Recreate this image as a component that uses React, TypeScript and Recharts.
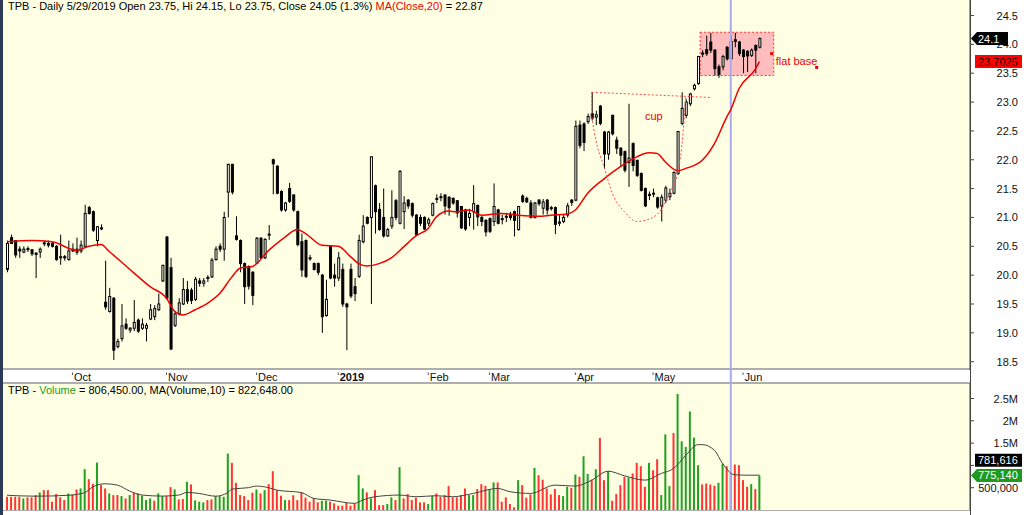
import React from "react";
import {
  Bar,
  ComposedChart,
  Line,
  ReferenceArea,
  ReferenceDot,
  ReferenceLine,
  XAxis,
  YAxis,
} from "recharts";

// daily candles, Sep 7 2018 .. Jun 7 2019 (index 0..184)
const opens = [
  20.1, 20.65, 20.6, 20.45, 20.4, 20.45, 20.44, 20.38, 20.4, 20.55,
  20.55, 20.55, 20.5, 20.3, 20.32, 20.27, 20.45, 20.45, 20.42, 20.5,
  21.17, 21.1, 20.6, 20.82, 19.53, 19.37, 19.6, 18.76, 18.9, 19.15,
  19.05, 19.08, 19.22, 19.08, 19.08, 19.24, 19.28, 19.4, 19.9, 20.66,
  20.13, 19.13, 19.33, 19.5, 19.75, 19.74, 19.58, 19.9, 19.86, 19.95,
  19.97, 20.27, 20.5, 20.45, 21.44, 21.92, 20.68, 20.6, 20.2, 20.15,
  20.05, 20.21, 20.64, 20.3, 20.7, 22.0, 21.89, 21.45, 21.13, 21.5,
  21.39, 21.1, 20.58, 20.6, 20.3, 20.2, 20.2, 20.0, 19.3, 20.5,
  20.0, 19.95, 20.1, 19.5, 20.1, 19.8, 19.98, 20.58, 21.0, 21.0,
  21.55, 21.14, 21.0, 20.68, 20.85, 21.29, 20.9, 21.1, 21.3, 21.24,
  21.04, 21.0, 21.0, 20.9, 21.04, 21.33, 21.35, 21.39, 21.35, 21.33,
  21.29, 21.19, 21.13, 21.0, 21.1, 21.21, 21.0, 20.95, 20.98, 20.93,
  21.13, 20.98, 21.02, 21.05, 21.1, 20.79, 21.37, 21.33, 21.25, 21.0,
  21.3, 21.16, 21.3, 21.17, 21.17, 20.9, 20.93, 21.04, 21.3, 21.3,
  22.6, 22.62, 22.66, 22.8, 22.74, 22.93, 22.48, 22.1, 22.77, 22.34,
  22.2, 22.14, 21.95, 22.28, 21.99, 21.76, 21.5, 21.38, 21.42, 21.34,
  21.2, 21.3, 21.36, 21.42, 21.76, 22.63, 22.77, 22.97, 23.23, 23.32,
  23.83, 23.91, 24.04, 23.9, 23.61, 23.61, 23.95, 23.75, 24.08, 24.04,
  23.9, 23.88, 23.81, 23.98, 23.95,
];
const highs = [
  20.6, 20.7, 20.6, 20.5, 20.5, 20.5, 20.45, 20.4, 20.48, 20.6,
  20.6, 20.58, 20.52, 20.7, 20.35, 20.6, 20.55, 20.65, 20.6, 21.22,
  21.2, 21.12, 20.85, 20.88, 20.25, 19.78, 19.62, 18.9, 19.5, 19.25,
  19.1, 19.57, 19.25, 19.25, 19.17, 19.5, 19.48, 19.68, 20.18, 20.68,
  20.3, 19.38, 19.6, 19.95, 19.9, 19.78, 19.97, 19.95, 19.95, 20.0,
  20.3, 20.5, 20.55, 21.1, 21.93, 21.93, 21.02, 20.62, 20.22, 20.17,
  20.07, 20.66, 20.66, 20.64, 20.87, 22.02, 21.9, 21.47, 21.27, 21.6,
  21.4, 21.12, 20.72, 20.62, 20.35, 20.22, 20.22, 20.02, 19.92, 20.52,
  20.2, 20.4, 20.2, 19.52, 20.2, 19.95, 20.7, 21.04, 21.02, 22.06,
  21.57, 21.25, 21.5, 20.82, 21.47, 21.32, 21.82, 21.37, 21.32, 21.26,
  21.06, 21.05, 21.02, 21.0, 21.26, 21.4, 21.42, 21.4, 21.37, 21.35,
  21.3, 21.2, 21.15, 21.15, 21.56, 21.22, 21.03, 20.97, 21.0, 21.59,
  21.15, 21.05, 21.08, 21.1, 21.12, 21.2, 21.4, 21.36, 21.3, 21.27,
  21.32, 21.32, 21.32, 21.2, 21.19, 21.05, 21.05, 21.25, 21.32, 22.68,
  22.68, 22.65, 22.8, 23.17, 22.85, 22.95, 22.5, 22.5, 22.78, 22.4,
  22.22, 22.16, 22.97, 22.3, 22.0, 21.78, 21.52, 21.45, 21.5, 21.36,
  21.4, 21.55, 21.5, 21.8, 22.5, 23.17, 23.05, 23.16, 23.32, 23.8,
  23.9, 24.15, 24.2, 23.92, 23.65, 23.82, 23.97, 24.15, 24.2, 24.06,
  23.92, 23.9, 23.93, 24.0, 24.12,
];
const lows = [
  20.05, 20.55, 20.3, 20.3, 20.38, 20.4, 20.33, 19.95, 20.3, 20.5,
  20.48, 20.48, 20.25, 20.18, 20.25, 20.25, 20.4, 20.35, 20.38, 20.48,
  21.05, 20.75, 20.5, 20.78, 19.4, 19.35, 18.53, 18.73, 18.85, 19.05,
  19.0, 19.03, 19.0, 19.05, 18.85, 19.22, 19.22, 19.38, 19.88, 19.58,
  18.7, 19.1, 19.3, 19.48, 19.5, 19.5, 19.55, 19.8, 19.8, 19.88,
  19.95, 20.25, 20.4, 20.25, 21.0, 21.4, 20.6, 20.05, 19.5, 19.75,
  19.48, 20.2, 20.28, 20.28, 20.61, 21.4, 21.4, 21.1, 21.1, 21.25,
  21.1, 20.5, 19.97, 19.95, 20.25, 20.08, 20.0, 19.0, 19.28, 19.93,
  19.8, 19.9, 19.45, 18.7, 19.6, 19.55, 19.95, 20.55, 20.88, 19.5,
  20.72, 20.77, 20.65, 20.66, 20.8, 20.95, 20.88, 20.8, 21.15, 21.0,
  20.68, 20.85, 20.78, 20.85, 21.02, 21.25, 21.28, 21.05, 21.03, 21.22,
  21.0, 20.8, 20.77, 20.85, 20.79, 20.85, 20.85, 20.67, 20.73, 20.85,
  20.88, 20.88, 20.92, 20.95, 20.67, 20.77, 21.25, 21.25, 20.98, 20.98,
  21.2, 21.05, 21.05, 21.12, 20.71, 20.85, 20.9, 21.0, 21.2, 21.28,
  22.2, 22.15, 22.62, 22.68, 22.6, 22.6, 21.85, 22.0, 22.42, 22.1,
  21.88, 21.78, 21.53, 21.8, 21.7, 21.45, 21.18, 21.3, 21.35, 21.15,
  20.93, 21.25, 21.3, 21.4, 21.74, 22.6, 22.72, 22.93, 23.2, 23.3,
  23.78, 23.8, 23.85, 23.46, 23.42, 23.55, 23.72, 23.75, 23.95, 23.8,
  23.5, 23.52, 23.78, 23.5, 23.93,
];
const closes = [
  20.55, 20.55, 20.35, 20.42, 20.45, 20.46, 20.37, 20.36, 20.45, 20.56,
  20.52, 20.5, 20.27, 20.32, 20.3, 20.42, 20.42, 20.4, 20.52, 21.07,
  21.07, 20.78, 20.84, 20.82, 19.45, 19.63, 18.7, 18.85, 19.12, 19.08,
  19.08, 19.18, 19.03, 19.15, 19.13, 19.4, 19.42, 19.5, 20.17, 19.6,
  18.72, 19.33, 19.52, 19.75, 19.55, 19.56, 19.93, 19.86, 19.9, 19.96,
  20.26, 20.45, 20.45, 21.0, 21.92, 21.44, 20.62, 20.2, 19.8, 19.81,
  19.65, 20.64, 20.3, 20.62, 20.71, 21.93, 21.42, 21.13, 21.25, 21.28,
  21.13, 20.53, 20.09, 19.98, 20.3, 20.1, 20.05, 19.28, 19.58, 19.95,
  19.95, 20.3, 19.5, 19.45, 19.64, 19.68, 20.6, 20.85, 20.9, 22.05,
  21.1, 20.79, 20.68, 20.79, 21.0, 21.0, 21.8, 21.25, 21.2, 21.04,
  20.7, 20.9, 20.8, 20.96, 21.24, 21.33, 21.36, 21.2, 21.17, 21.25,
  21.08, 20.82, 20.8, 21.07, 21.24, 21.01, 20.93, 20.75, 20.76, 21.19,
  20.9, 20.98, 21.02, 21.0, 20.95, 21.19, 21.28, 21.27, 21.0, 21.25,
  21.24, 21.27, 21.13, 21.17, 20.88, 20.92, 21.0, 21.2, 21.26, 22.58,
  22.25, 22.3, 22.75, 22.72, 22.78, 22.63, 22.1, 22.48, 22.45, 22.2,
  22.08, 21.82, 22.03, 21.9, 21.73, 21.47, 21.2, 21.4, 21.42, 21.18,
  21.35, 21.51, 21.42, 21.78, 22.49, 22.89, 23.0, 23.14, 23.29, 23.79,
  23.85, 23.84, 23.9, 23.58, 23.48, 23.79, 23.75, 24.05, 24.05, 23.84,
  23.79, 23.8, 23.9, 23.9, 24.1,
];
// volume in thousands of shares, and its colour direction (1 = green, 0 = red)
const volumes = [
  297, 297, 297, 297, 260, 283, 283, 335, 394, 446,
  446, 186, 357, 283, 223, 372, 350, 461, 484, 915,
  692, 588, 1064, 558, 484, 372, 335, 335, 312, 260,
  335, 387, 372, 320, 223, 260, 208, 372, 312, 312,
  513, 461, 238, 246, 632, 573, 216, 186, 171, 223,
  238, 312, 312, 297, 1265, 1057, 610, 335, 312, 223,
  387, 461, 372, 446, 580, 870, 446, 320, 223, 223,
  330, 223, 400, 275, 186, 260, 171, 208, 208, 186,
  149, 97, 97, 164, 97, 149, 781, 484, 394, 260,
  446, 110, 110, 134, 283, 223, 960, 260, 357, 223,
  275, 171, 171, 134, 320, 372, 297, 335, 536, 283,
  283, 335, 484, 335, 335, 469, 580, 543, 469, 618,
  618, 186, 283, 134, 60, 670, 558, 275, 350, 944,
  780, 680, 484, 350, 469, 335, 312, 521, 498, 796,
  744, 1205, 810, 680, 915, 1614, 670, 870, 208, 357,
  558, 744, 729, 820, 1057, 982, 521, 1057, 890, 1138,
  335, 1696, 536, 1726, 2604, 1540, 1414, 2210, 1622, 1004,
  573, 595, 573, 543, 610, 1042, 982, 806.45, 1020, 1004,
  670, 521, 580, 469, 775.14,
];
const volUp = [
  0, 0, 0, 0, 1, 0, 0, 0, 1, 0,
  0, 0, 0, 0, 0, 1, 0, 0, 1, 1,
  0, 0, 1, 0, 0, 1, 0, 0, 1, 0,
  1, 0, 1, 1, 1, 1, 0, 1, 1, 0,
  0, 1, 0, 0, 1, 0, 1, 1, 1, 0,
  0, 1, 1, 1, 1, 0, 0, 0, 0, 0,
  0, 1, 0, 1, 0, 0, 0, 0, 1, 0,
  0, 0, 0, 0, 0, 0, 0, 1, 1, 0,
  0, 0, 0, 0, 0, 0, 1, 1, 0, 1,
  0, 0, 0, 1, 1, 0, 1, 0, 0, 0,
  0, 0, 0, 1, 1, 0, 0, 0, 0, 0,
  0, 0, 0, 1, 1, 0, 0, 0, 1, 1,
  0, 0, 0, 0, 0, 1, 0, 0, 0, 1,
  0, 0, 0, 0, 0, 0, 1, 1, 0, 1,
  0, 1, 1, 0, 1, 0, 0, 1, 0, 0,
  0, 0, 1, 0, 0, 0, 0, 1, 0, 0,
  1, 1, 1, 0, 1, 1, 1, 1, 1, 1,
  0, 0, 0, 0, 1, 1, 0, 1, 0, 0,
  0, 0, 1, 0, 1,
];
// MA(Close,20): [index, value]
const maPoints: [number, number][] = [
  [0, 20.58], [6, 20.6], [11, 20.58], [17, 20.43], [20, 20.5], [23, 20.53],
  [25, 20.41], [31, 20.04], [35, 19.8], [39, 19.6], [41, 19.37], [43, 19.31],
  [46, 19.4], [49, 19.51], [52, 19.68], [55, 19.97], [57, 20.12], [60, 20.15],
  [64, 20.43], [68, 20.66], [71, 20.79], [73, 20.72], [77, 20.52], [81, 20.5],
  [84, 20.32], [86, 20.2], [88, 20.16], [91, 20.2], [94, 20.3], [97, 20.49],
  [100, 20.68], [103, 20.81], [105, 21.01], [108, 21.11], [110, 21.1], [113, 21.13],
  [116, 21.04], [121, 21.07], [125, 21.04], [130, 21.02], [133, 21.04], [137, 21.06],
  [139, 21.13], [142, 21.42], [146, 21.67], [150, 21.88], [154, 22.05], [157, 22.12],
  [159, 22.11], [161, 21.96], [164, 21.81], [166, 21.85], [170, 21.99], [173, 22.28],
  [176, 22.74], [177, 22.87], [179, 23.23], [183, 23.57], [184, 23.7025],
];
// MA(Volume,10) in thousands: [index, value]
const volMaPoints: [number, number][] = [
  [0, 330], [7, 310], [15, 330], [19, 390], [21, 520], [24, 588], [27, 558],
  [30, 424], [33, 335], [38, 312], [42, 335], [44, 394], [47, 370], [51, 310],
  [54, 390], [55, 470], [59, 500], [61, 536], [64, 500], [66, 446], [72, 390],
  [75, 260], [79, 223], [85, 149], [87, 223], [90, 297], [96, 335], [100, 297],
  [105, 320], [109, 297], [114, 372], [120, 484], [123, 410], [128, 372],
  [134, 558], [139, 536], [143, 670], [147, 870], [151, 767], [156, 670],
  [160, 820], [163, 930], [166, 1227], [169, 1466], [170, 1466], [173, 1339],
  [175, 1040], [176, 930], [177, 822.648], [178, 790], [181, 780], [184, 781.616],
];
// hand-drawn cup outline: [index, price]
const cupPoints: [number, number][] = [
  [143, 22.74], [144, 22.34], [146, 21.88], [148, 21.42], [151, 21.1],
  [154, 20.93], [157, 20.97], [160, 21.14], [162, 21.42], [164, 21.78],
  [165, 22.22], [166, 23.1],
];
const cupRim = { from: 143, to: 172, top: 23.17, end: 23.08, lip: 22.74 };
const flatBase = { from: 170, to: 187, low: 23.46, high: 24.21 };

const monthTicks = [16, 39, 61, 81, 103, 118, 139, 158, 180];
const monthLabels = ["Oct", "Nov", "Dec", "2019", "Feb", "Mar", "Apr", "May", "Jun"];
const priceTicks = [18.5, 19, 19.5, 20, 20.5, 21, 21.5, 22, 22.5, 23, 23.5, 24, 24.5];
const volTicks = [500000, 1000000, 1500000, 2000000, 2500000];
const volTickLabels = ["500,000", "", "1.5M", "2M", "2.5M"];

const SLOTS = 236;
const CURSOR = 177;
const FONT = '"Liberation Sans", Arial, sans-serif';
const BG = "#FFFFE3";
const CROSS = "#A9A9F4";

const maMap = new Map(maPoints);
const vmaMap = new Map(volMaPoints);
const cupMap = new Map(cupPoints);

const rows = Array.from({ length: SLOTS }, (_, i) => {
  const has = i < closes.length;
  return {
    i,
    o: has ? opens[i] : null,
    h: has ? highs[i] : null,
    l: has ? lows[i] : null,
    c: has ? closes[i] : null,
    range: has ? [lows[i], highs[i]] : null,
    ma: maMap.has(i) ? maMap.get(i) : null,
    cup: cupMap.has(i) ? cupMap.get(i) : null,
    vol: has ? volumes[i] * 1000 : null,
    up: volUp[i] === 1,
    vma: vmaMap.has(i) ? (vmaMap.get(i) as number) * 1000 : null,
  };
});

const lastClose = closes[closes.length - 1];
const lastMa = maPoints[maPoints.length - 1][1];
const lastVol = volumes[volumes.length - 1] * 1000;
const lastVolMa = volMaPoints[volMaPoints.length - 1][1] * 1000;

const Candle = (props: any) => {
  const { x, y, width, height, payload } = props;
  if (!payload || payload.o == null || !isFinite(y) || !isFinite(height)) return <g />;
  const { o, h, l, c } = payload;
  const top = Math.min(y, y + height);
  const hgt = Math.abs(height);
  const k = h === l ? 0 : hgt / (h - l);
  const yO = top + (h - o) * k;
  const yC = top + (h - c) * k;
  const cx = x + width / 2;
  const bodyTop = Math.min(yO, yC);
  const bodyH = Math.max(Math.abs(yO - yC), 1);
  return (
    <g>
      <line x1={cx} x2={cx} y1={top} y2={top + Math.max(hgt, 1)} stroke="#000" />
      <rect
        x={cx - 1}
        y={bodyTop}
        width={2}
        height={bodyH}
        fill={c >= o ? "#fff" : "#000"}
        stroke="#000"
        strokeWidth={1}
      />
    </g>
  );
};

const VolBar = (props: any) => {
  const { x, y, width, height, payload } = props;
  if (!payload || payload.vol == null || !(height > 0)) return <g />;
  return <rect x={x} y={y} width={width} height={height} fill={payload.up ? "#22A022" : "#FF3535"} />;
};

const PriceTick = (props: any) => (
  <text x={1018} y={props.y + 4} textAnchor="end" fontSize={11} fill="#111" fontFamily={FONT}>
    {Number(props.payload.value).toFixed(1)}
  </text>
);

const VolTick = (props: any) => (
  <text x={1018} y={props.y + 4} textAnchor="end" fontSize={11} fill="#111" fontFamily={FONT}>
    {volTickLabels[volTicks.indexOf(props.payload.value)]}
  </text>
);

const DateTick = (props: any) => {
  const { x, y, payload } = props;
  const k = monthTicks.indexOf(payload.value);
  return (
    <g>
      <line x1={x} x2={x} y1={y + 2.5} y2={y + 5} stroke="#555" />
      <text x={x + 1.5} y={y + 10.5} fontSize={11} fontWeight={k === 3 ? 700 : 400} fill="#111" fontFamily={FONT}>
        {monthLabels[k]}
      </text>
    </g>
  );
};

// carries the cursor line on through the date strip below the price pane
const CrossTail = (props: any) => {
  const vb = props.viewBox;
  if (!vb) return <g />;
  const yb = vb.y + vb.height;
  return <line x1={vb.x} x2={vb.x} y1={yb} y2={yb + 14} stroke={CROSS} strokeWidth={2} />;
};

const Tag = (props: any) => {
  const { viewBox, text, bg, fg, arrow, w, lift = 0 } = props;
  if (!viewBox) return <g />;
  const x0 = viewBox.x + viewBox.width;
  const cy = viewBox.y - lift;
  const bx = x0 + 7;
  const d = arrow
    ? `M${x0 + 1},${cy} L${bx},${cy - 6.5} L${bx + w},${cy - 6.5} L${bx + w},${cy + 6.5} L${bx},${cy + 6.5} Z`
    : `M${bx - 2},${cy - 6.5} L${bx + w},${cy - 6.5} L${bx + w},${cy + 6.5} L${bx - 2},${cy + 6.5} Z`;
  return (
    <g>
      <path d={d} fill={bg} />
      <text x={bx + 1} y={cy + 4} fontSize={11} fill={fg} fontFamily={FONT}>
        {text}
      </text>
    </g>
  );
};

const Square = (p: any) => <rect x={p.cx - 1.5} y={p.cy - 1.5} width={3} height={3} fill="#E80000" />;
const Note = (text: string) => (p: any) => (
  <text x={p.cx} y={p.cy + 4} fontSize={11} fill="#F00000" fontFamily={FONT}>
    {text}
  </text>
);

const box = (left: number, top: number, width: number, height: number, background: string) => (
  <div style={{ position: "absolute", left, top, width, height, background }} />
);

export default function App() {
  return (
    <div
      style={{
        position: "fixed",
        left: 0,
        top: 0,
        width: 1024,
        height: 515,
        background: "#fff",
        overflow: "hidden",
        fontFamily: FONT,
      }}
    >
      {box(3, 0, 967, 368, BG)}
      {box(3, 368, 967, 2, "#AEAEAE")}
      {box(3, 382, 967, 2, "#AEAEAE")}
      {box(3, 384, 967, 126, BG)}
      {box(3, 510, 967, 1, "#AEAEAE")}
      {box(970, 0, 1, 515, "#444")}
      {box(0, 0, 3, 515, "#2C3A58")}

      <div style={{ position: "absolute", left: 0, top: 0 }}>
        <ComposedChart width={1024} height={383} data={rows} margin={{ top: 0, right: 0, left: 5, bottom: 0 }}>
          <XAxis
            dataKey="i"
            type="category"
            ticks={monthTicks}
            interval={0}
            height={13}
            tickSize={0}
            tickMargin={0}
            axisLine={false}
            tickLine={false}
            tick={(p: any) => <DateTick {...p} />}
          />
          <YAxis
            orientation="right"
            width={54}
            type="number"
            domain={[18.356, 24.769]}
            allowDataOverflow
            ticks={priceTicks}
            interval={0}
            tickSize={4}
            axisLine={{ stroke: "#444" }}
            tickLine={{ stroke: "#444" }}
            tick={(p: any) => <PriceTick {...p} />}
          />
          <ReferenceArea
            x1={flatBase.from}
            x2={flatBase.to}
            y1={flatBase.low}
            y2={flatBase.high}
            fill="#FFBDBD"
            fillOpacity={1}
            stroke="#FF3030"
            strokeDasharray="2 2"
          />
          <ReferenceLine x={CURSOR} stroke={CROSS} strokeWidth={2} label={<CrossTail />} />
          <Bar dataKey="range" barSize={3} shape={(p: any) => <Candle {...p} />} isAnimationActive={false} />
          <Line
            dataKey="ma"
            type="monotone"
            stroke="#F00000"
            strokeWidth={1.5}
            dot={false}
            activeDot={false}
            connectNulls
            isAnimationActive={false}
          />
          <Line
            dataKey="cup"
            type="monotone"
            stroke="#FF4848"
            strokeWidth={1}
            strokeDasharray="2 2"
            dot={false}
            activeDot={false}
            connectNulls
            isAnimationActive={false}
          />
          <ReferenceLine
            segment={[
              { x: cupRim.from, y: cupRim.top },
              { x: cupRim.to, y: cupRim.end },
            ]}
            stroke="#FF4848"
            strokeDasharray="2 2"
          />
          <ReferenceLine
            segment={[
              { x: cupRim.from, y: cupRim.top },
              { x: cupRim.from, y: cupRim.lip },
            ]}
            stroke="#FF4848"
            strokeDasharray="2 2"
          />
          <ReferenceDot x={187} y={23.84} shape={Square} />
          <ReferenceDot x={198} y={23.6} shape={Square} />
          <ReferenceDot x={188} y={23.72} shape={Note("flat base")} />
          <ReferenceDot x={156} y={22.75} shape={Note("cup")} />
          <ReferenceLine
            y={lastMa}
            stroke="none"
            label={<Tag text={String(lastMa)} bg="#FF0000" fg="#220000" w={45} />}
          />
          <ReferenceLine
            y={lastClose}
            stroke="none"
            label={<Tag text={lastClose.toFixed(1)} bg="#000" fg="#fff" w={31} arrow />}
          />
        </ComposedChart>
      </div>

      <div style={{ position: "absolute", left: 0, top: 383 }}>
        <ComposedChart width={1024} height={132} data={rows} margin={{ top: 0, right: 0, left: 5, bottom: 5 }}>
          <XAxis dataKey="i" type="category" hide />
          <YAxis
            orientation="right"
            width={54}
            type="number"
            domain={[0, 2848000]}
            allowDataOverflow
            ticks={volTicks}
            interval={0}
            tickSize={4}
            axisLine={{ stroke: "#444" }}
            tickLine={{ stroke: "#444" }}
            tick={(p: any) => <VolTick {...p} />}
          />
          <ReferenceLine x={CURSOR} stroke={CROSS} strokeWidth={2} />
          <Bar dataKey="vol" barSize={2} shape={(p: any) => <VolBar {...p} />} isAnimationActive={false} />
          <Line
            dataKey="vma"
            type="monotone"
            stroke="#444"
            strokeWidth={1}
            dot={false}
            activeDot={false}
            connectNulls
            isAnimationActive={false}
          />
          <ReferenceLine
            y={lastVolMa}
            stroke="none"
            label={<Tag text={Math.round(lastVolMa).toLocaleString("en-US")} bg="#000" fg="#fff" w={45} lift={15} />}
          />
          <ReferenceLine
            y={lastVol}
            stroke="none"
            label={<Tag text={Math.round(lastVol).toLocaleString("en-US")} bg="#1E9A1E" fg="#fff" w={45} arrow />}
          />
        </ComposedChart>
      </div>

      <div style={{ position: "absolute", left: 8, top: 0, fontSize: 11, lineHeight: "13px", color: "#000", whiteSpace: "nowrap" }}>
        TPB - Daily 5/29/2019 Open 23.75, Hi 24.15, Lo 23.75, Close 24.05 (1.3%){" "}
        <span style={{ color: "#F00000" }}>MA(Close,20)</span> = 22.87
      </div>
      <div style={{ position: "absolute", left: 8, top: 384, fontSize: 11, lineHeight: "13px", color: "#000", whiteSpace: "nowrap" }}>
        TPB - <span style={{ color: "#1E9A1E" }}>Volume</span> = 806,450.00, MA(Volume,10) = 822,648.00
      </div>
    </div>
  );
}
